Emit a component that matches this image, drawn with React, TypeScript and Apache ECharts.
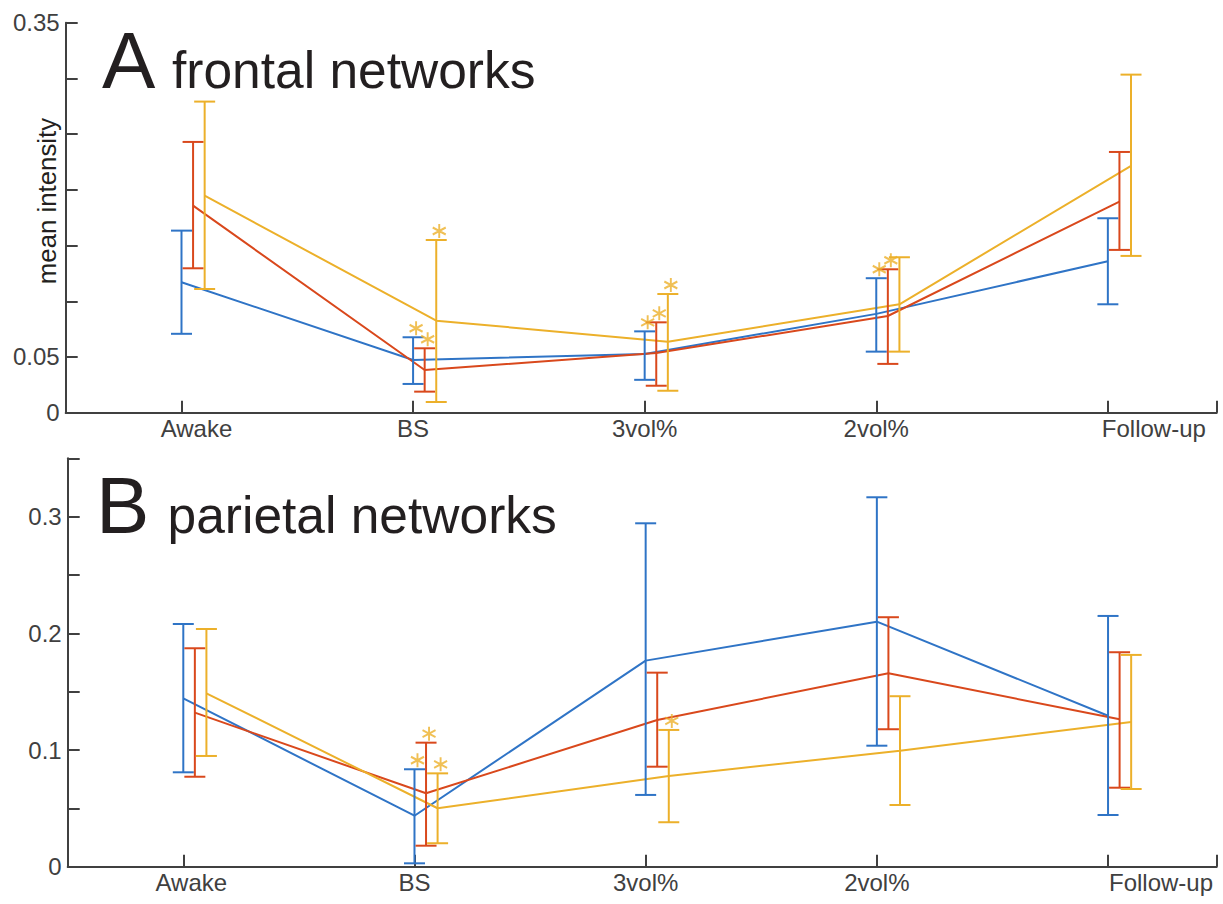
import React, { useEffect, useRef } from "react";
import * as echarts from "echarts";

const categories = ["Awake", "BS", "3vol%", "2vol%", "Follow-up"];

// Panel A: frontal networks
const frontalBlueMean = [0.1171, 0.0473, 0.0527, 0.0887, 0.1359];
const frontalBlueLow = [0.0708, 0.0258, 0.0295, 0.0548, 0.0973];
const frontalBlueHigh = [0.1634, 0.0677, 0.073, 0.1207, 0.1745];
const frontalRedMean = [0.1858, 0.0383, 0.0535, 0.0868, 0.1894];
const frontalRedLow = [0.1296, 0.0189, 0.0242, 0.0438, 0.1461];
const frontalRedHigh = [0.243, 0.0578, 0.0811, 0.1287, 0.234];
const frontalYellowMean = [0.1948, 0.0826, 0.0637, 0.0973, 0.2215];
const frontalYellowLow = [0.111, 0.0096, 0.0197, 0.0548, 0.1407];
const frontalYellowHigh = [0.2792, 0.155, 0.1065, 0.1395, 0.3034];
const frontalBlueStars = [0, 1, 1, 1, 0];
const frontalRedStars = [0, 1, 1, 1, 0];
const frontalYellowStars = [0, 1, 1, 0, 0];

// Panel B: parietal networks
const parietalBlueMean = [0.1443, 0.0437, 0.1766, 0.21, 0.1294];
const parietalBlueLow = [0.0809, 0.0029, 0.0615, 0.1037, 0.0443];
const parietalBlueHigh = [0.208, 0.0835, 0.2943, 0.3166, 0.2149];
const parietalRedMean = [0.132, 0.0629, 0.1257, 0.1658, 0.1263];
const parietalRedLow = [0.0771, 0.018, 0.0857, 0.1178, 0.0677];
const parietalRedHigh = [0.1872, 0.1063, 0.1663, 0.2138, 0.1838];
const parietalYellowMean = [0.1486, 0.0501, 0.0777, 0.0994, 0.124];
const parietalYellowLow = [0.0949, 0.0201, 0.0381, 0.0529, 0.0666];
const parietalYellowHigh = [0.2037, 0.08, 0.1172, 0.1461, 0.1815];
const parietalBlueStars = [0, 1, 0, 0, 0];
const parietalRedStars = [0, 1, 0, 0, 0];
const parietalYellowStars = [0, 1, 1, 0, 0];

const yTicks = [0, 0.05, 0.1, 0.15, 0.2, 0.25, 0.3, 0.35];
const frontalYLabels = [0, 0.05, 0.35];
const parietalYLabels = [0, 0.1, 0.2, 0.3];
const xTicks = [1, 2, 3, 4, 5, 5.47];
const xLabelValues = [1, 2, 3, 4, 5];

const BLUE = "#2f74c6";
const RED = "#d9481c";
const YELLOW = "#ecb02a";
const AXIS = "#404040";
const FONT = "'Liberation Sans', Arial, Helvetica, sans-serif";
const OFFSETS = [0, 0.05, 0.1];

const STAR_PATH = "path://M0,-10L0,10M-8.66,-5L8.66,5M-8.66,5L8.66,-5";

function buildPanel(
  idx: number,
  groups: { mean: number[]; low: number[]; high: number[]; stars: number[]; color: string }[]
) {
  const out: any[] = [];
  groups.forEach((g, s) => {
    const off = OFFSETS[s];
    out.push({
      type: "line",
      xAxisIndex: idx,
      yAxisIndex: idx,
      data: g.mean.map((v, i) => [i + 1 + off, v]),
      symbol: "none",
      lineStyle: { color: g.color, width: 2 },
      z: 3,
    });
    out.push({
      type: "custom",
      xAxisIndex: idx,
      yAxisIndex: idx,
      data: g.mean.map((_, i) => [i + 1 + off, g.low[i], g.high[i]]),
      encode: { x: 0, y: [1, 2] },
      z: 4,
      renderItem: (params: any, api: any) => {
        const x = api.value(0);
        const lo = api.coord([x, api.value(1)]);
        const hi = api.coord([x, api.value(2)]);
        const hw = 10.5;
        const st = { stroke: g.color, lineWidth: 2 };
        return {
          type: "group",
          children: [
            { type: "line", shape: { x1: lo[0], y1: lo[1], x2: hi[0], y2: hi[1] }, style: st },
            { type: "line", shape: { x1: lo[0] - hw, y1: lo[1], x2: lo[0] + hw, y2: lo[1] }, style: st },
            { type: "line", shape: { x1: hi[0] - hw, y1: hi[1], x2: hi[0] + hw, y2: hi[1] }, style: st },
          ],
        };
      },
    });
    const starData = g.high
      .map((v, i) => (g.stars[i] ? [i + 1 + off, v] : null))
      .filter((d) => d !== null);
    if (starData.length) {
      out.push({
        type: "scatter",
        xAxisIndex: idx,
        yAxisIndex: idx,
        data: starData,
        symbol: STAR_PATH,
        symbolSize: [13, 14],
        symbolOffset: [3, -9],
        itemStyle: { color: "transparent", borderColor: YELLOW, borderWidth: 2 },
        z: 5,
      });
    }
  });
  return out;
}

function xAxisFor(idx: number, awakePad: number, followPad: number) {
  return {
    type: "value",
    gridIndex: idx,
    min: 0.5,
    max: 5.47,
    splitLine: { show: false },
    axisLine: { show: true, onZero: false, lineStyle: { color: AXIS, width: 2 } },
    axisTick: { show: true, inside: true, length: 12, customValues: xTicks, lineStyle: { color: AXIS, width: 2 } },
    axisLabel: {
      customValues: xLabelValues,
      margin: 4,
      fontSize: 24,
      fontFamily: FONT,
      color: AXIS,
      formatter: (v: number) => {
        const name = categories[Math.round(v) - 1];
        if (v === 1) return "{aw|" + name + "}";
        if (v === 5) return "{fu|" + name + "}";
        return "{n|" + name + "}";
      },
      rich: {
        n: { fontSize: 24, fontFamily: FONT, color: AXIS },
        aw: { fontSize: 24, fontFamily: FONT, color: AXIS, padding: [0, 0, 0, awakePad] },
        fu: { fontSize: 24, fontFamily: FONT, color: AXIS, padding: [0, 0, 0, followPad] },
      },
    },
  };
}

function yAxisFor(idx: number, labels: number[]) {
  return {
    type: "value",
    gridIndex: idx,
    min: 0,
    max: 0.35,
    splitLine: { show: false },
    axisLine: { show: true, lineStyle: { color: AXIS, width: 2 } },
    axisTick: { show: true, inside: true, length: 12, customValues: yTicks, lineStyle: { color: AXIS, width: 2 } },
    axisLabel: {
      customValues: labels,
      margin: 6,
      fontSize: 24,
      fontFamily: FONT,
      color: AXIS,
      formatter: (v: number) => String(Math.round(v * 100) / 100),
    },
  };
}

function buildOption() {
  const frontal = buildPanel(0, [
    { mean: frontalBlueMean, low: frontalBlueLow, high: frontalBlueHigh, stars: frontalBlueStars, color: BLUE },
    { mean: frontalRedMean, low: frontalRedLow, high: frontalRedHigh, stars: frontalRedStars, color: RED },
    { mean: frontalYellowMean, low: frontalYellowLow, high: frontalYellowHigh, stars: frontalYellowStars, color: YELLOW },
  ]);
  const parietal = buildPanel(1, [
    { mean: parietalBlueMean, low: parietalBlueLow, high: parietalBlueHigh, stars: parietalBlueStars, color: BLUE },
    { mean: parietalRedMean, low: parietalRedLow, high: parietalRedHigh, stars: parietalRedStars, color: RED },
    { mean: parietalYellowMean, low: parietalYellowLow, high: parietalYellowHigh, stars: parietalYellowStars, color: YELLOW },
  ]);
  const titleColor = "#231f20";
  return {
    animation: false,
    backgroundColor: "#ffffff",
    grid: [
      { left: 65.7, top: 22.7, width: 1151, height: 390, containLabel: false },
      { left: 67.7, top: 458.3, width: 1149, height: 408.4, containLabel: false },
    ],
    xAxis: [xAxisFor(0, 30, 92), xAxisFor(1, 16, 106)],
    yAxis: [yAxisFor(0, frontalYLabels), yAxisFor(1, parietalYLabels)],
    series: [...frontal, ...parietal],
    graphic: [
      { type: "text", x: 102, y: 60, style: { text: "A", fontSize: 80, fontFamily: FONT, fill: titleColor, align: "left", verticalAlign: "middle" } },
      { type: "text", x: 172, y: 70.3, style: { text: "frontal networks", fontSize: 51.5, fontFamily: FONT, fill: titleColor, align: "left", verticalAlign: "middle" } },
      { type: "text", x: 96, y: 505, style: { text: "B", fontSize: 80, fontFamily: FONT, fill: titleColor, align: "left", verticalAlign: "middle" } },
      { type: "text", x: 167.5, y: 515, style: { text: "parietal networks", fontSize: 51.5, fontFamily: FONT, fill: titleColor, align: "left", verticalAlign: "middle" } },
      { type: "text", x: 47, y: 201, rotation: Math.PI / 2, style: { text: "mean intensity", fontSize: 25.8, fontFamily: FONT, fill: titleColor, align: "center", verticalAlign: "middle" } },
    ],
  };
}

export default function App() {
  const ref = useRef<HTMLDivElement>(null);
  useEffect(() => {
    document.body.style.margin = "0";
    const chart = echarts.init(ref.current as HTMLDivElement, null, { renderer: "svg" });
    chart.setOption(buildOption() as any);
    return () => chart.dispose();
  }, []);
  return <div ref={ref} style={{ width: 1223, height: 904 }} />;
}
